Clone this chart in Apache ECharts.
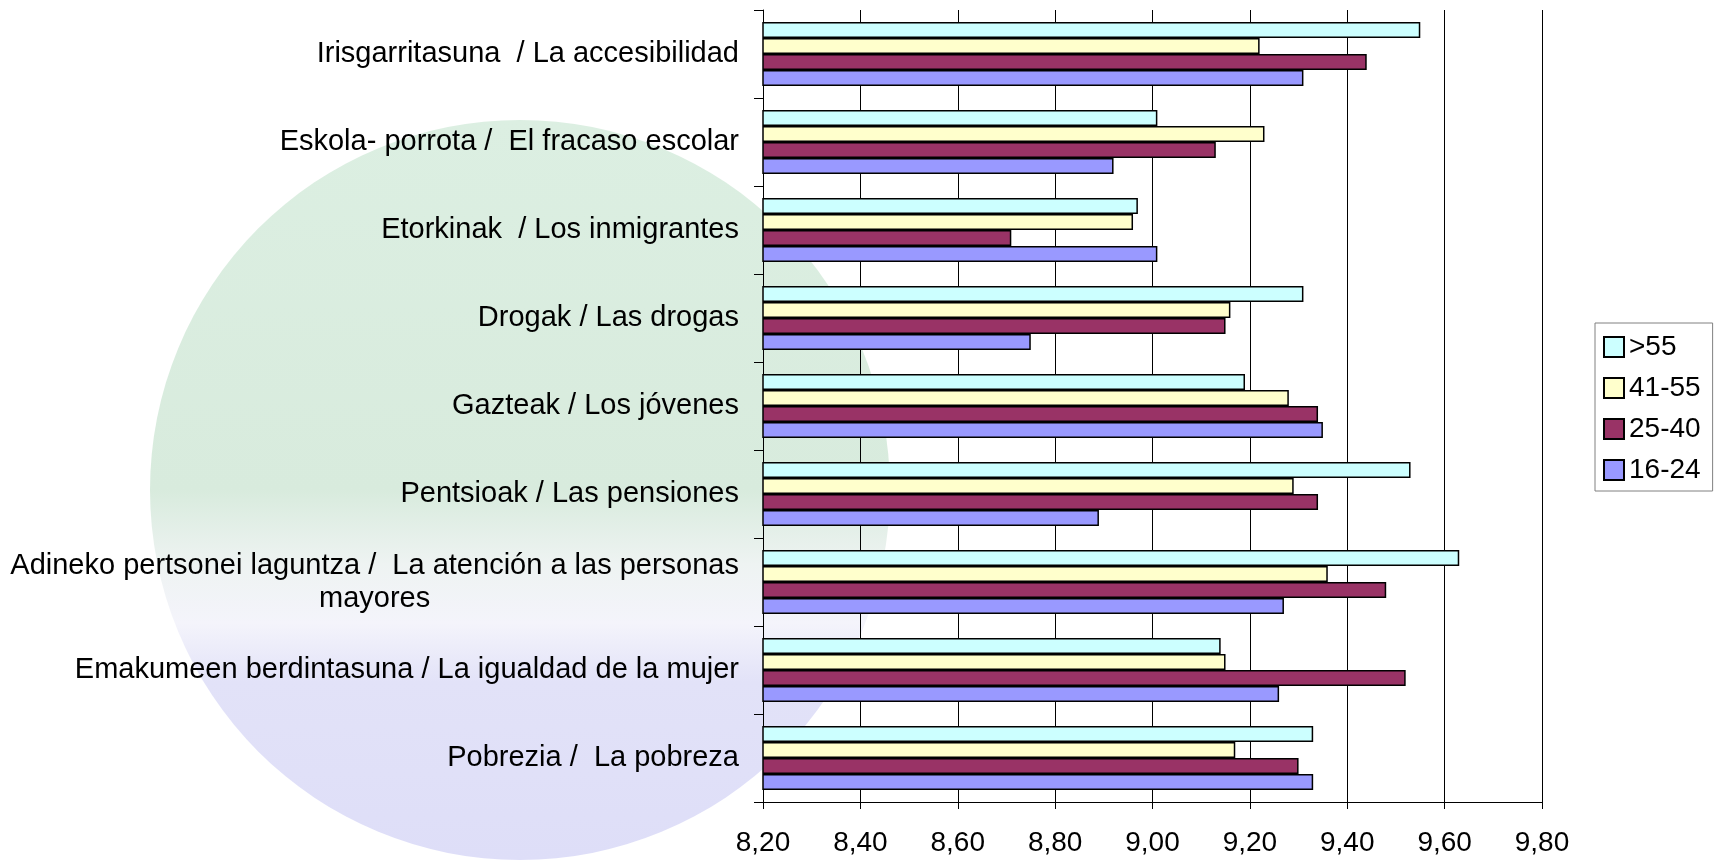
<!DOCTYPE html>
<html><head><meta charset="utf-8">
<script src="https://cdn.jsdelivr.net/npm/echarts@6/dist/echarts.min.js"></script>
<style>html,body{margin:0;padding:0;background:#fff}#c{width:1715px;height:860px}</style>
</head><body><div id="c"></div>
<script>
const categories = [
  "Irisgarritasuna  / La accesibilidad",
  "Eskola- porrota /  El fracaso escolar",
  "Etorkinak  / Los inmigrantes",
  "Drogak / Las drogas",
  "Gazteak / Los jóvenes",
  "Pentsioak / Las pensiones",
  "Adineko pertsonei laguntza /  La atención a las personas\nmayores",
  "Emakumeen berdintasuna / La igualdad de la mujer",
  "Pobrezia /  La pobreza"
];
const seriesNames = [">55", "41-55", "25-40", "16-24"];
const over55   = [9.55, 9.01, 8.97, 9.31, 9.19, 9.53, 9.63, 9.14, 9.33];
const age41_55 = [9.22, 9.23, 8.96, 9.16, 9.28, 9.29, 9.36, 9.15, 9.17];
const age25_40 = [9.44, 9.13, 8.71, 9.15, 9.34, 9.34, 9.48, 9.52, 9.30];
const age16_24 = [9.31, 8.92, 9.01, 8.75, 9.35, 8.89, 9.27, 9.26, 9.33];
const xMin = 8.2, xMax = 9.8, xStep = 0.2;
const colors = ["#CCFFFF", "#FFFFCC", "#993366", "#9999FF"];
const values = [over55, age41_55, age25_40, age16_24];
const FONT = 'Liberation Sans, Arial, sans-serif';

const chart = echarts.init(document.getElementById('c'));
chart.setOption({
  animation: false,
  graphic: [{
    type: 'circle', z: -10, silent: true,
    shape: { cx: 520, cy: 490, r: 370 },
    style: {
      fill: {
        type: 'linear', x: 0, y: 0, x2: 0, y2: 1,
        colorStops: [
          { offset: 0, color: '#dcefe2' },
          { offset: 0.5, color: '#d8ebdd' },
          { offset: 0.6, color: '#eef3f2' },
          { offset: 0.68, color: '#f4f4fb' },
          { offset: 0.76, color: '#e2e2f8' },
          { offset: 1, color: '#dedef8' }
        ]
      }
    }
  }],
  grid: { left: 763, right: 173, top: 10, bottom: 58, containLabel: false },
  legend: {
    orient: 'vertical', left: 1595, top: 323,
    data: seriesNames,
    itemWidth: 20, itemHeight: 20, itemGap: 13,
    padding: [10, 12, 7, 8],
    borderColor: '#808080', borderWidth: 1,
    icon: 'rect',
    textStyle: { fontFamily: FONT, fontSize: 28, color: '#000' }
  },
  xAxis: {
    type: 'value', min: xMin, max: xMax, interval: xStep,
    axisLine: { show: true, lineStyle: { color: '#000', width: 1 } },
    axisTick: { show: true, length: 7, lineStyle: { color: '#000' } },
    splitLine: { show: true, lineStyle: { color: '#000', width: 1 } },
    axisLabel: {
      margin: 27, color: '#000', fontSize: 28, fontFamily: FONT,
      formatter: v => v.toFixed(2).replace('.', ',')
    }
  },
  yAxis: {
    type: 'category', data: categories, inverse: true,
    axisLine: { show: true, lineStyle: { color: '#000', width: 1 } },
    axisTick: { show: true, length: 9, lineStyle: { color: '#000' } },
    axisLabel: {
      margin: 24, color: '#000', fontSize: 29, fontFamily: FONT,
      lineHeight: 33,
      formatter: v => v.indexOf('\n') >= 0
        ? v.split('\n').map(s => '{c|' + s + '}').join('\n') : v,
      rich: { c: { align: 'center', fontSize: 29, fontFamily: FONT, color: '#000', lineHeight: 33 } }
    }
  },
  series: seriesNames.map((n, i) => ({
    name: n, type: 'bar', data: values[i],
    barGap: '0%', barCategoryGap: '27%',
    itemStyle: { color: colors[i], borderColor: '#000', borderWidth: 1.5 }
  }))
});
</script></body></html>
